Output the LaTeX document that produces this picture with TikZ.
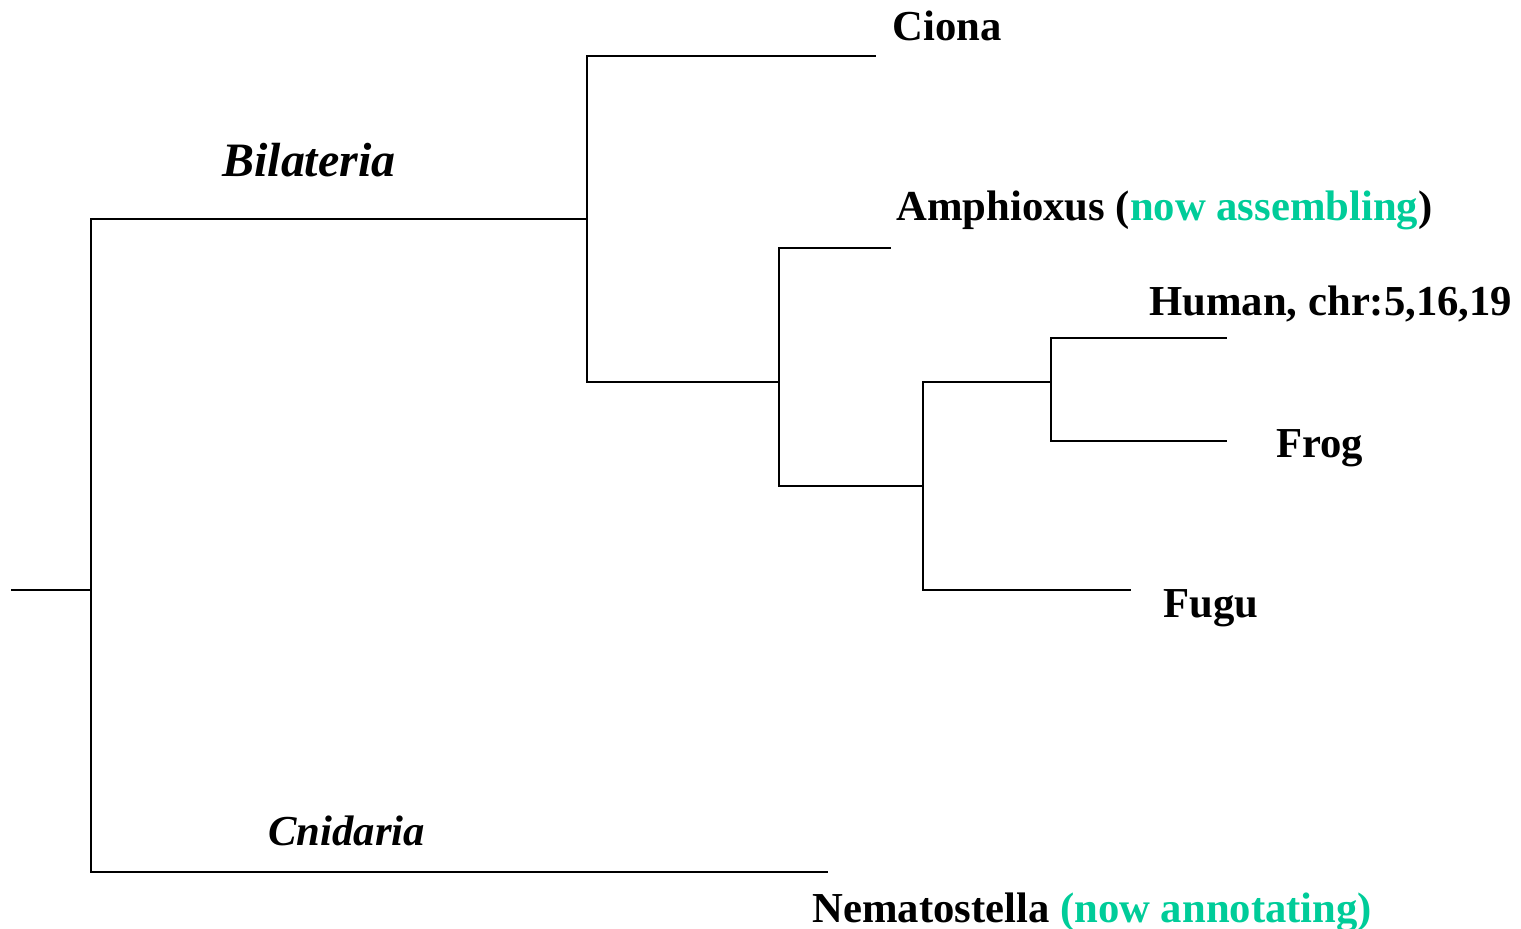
\documentclass[tikz,border=0pt]{standalone}
\usepackage{fontspec}
\setmainfont{Liberation Serif}
\usetikzlibrary{positioning,calc}
\definecolor{notegreen}{HTML}{00CC99}

\begin{document}
\begin{tikzpicture}[
x=0.02cm, y=-0.02cm,
branch/.style={line width=1.1pt},
taxon/.style={anchor=base west, inner sep=0pt, font=\fontsize{24.3}{29}\selectfont\bfseries},
clade/.style={taxon, font=\fontsize{24.3}{29}\selectfont\bfseries\itshape},
note/.style={text=notegreen}
]
\useasboundingbox (0,0) rectangle (1521,929);

% internal nodes
\coordinate (root) at (11,590);
\coordinate (n0) at (91,590);
\coordinate (bil) at (587,219);
\coordinate (chord) at (779,382);
\coordinate (vert) at (923,486);
\coordinate (tetra) at (1051,382);

% leaf ends
\coordinate (cionaEnd) at (876,56);
\coordinate (amphiEnd) at (891,248);
\coordinate (humanEnd) at (1227,338);
\coordinate (frogEnd) at (1227,441);
\coordinate (fuguEnd) at (1131,590);
\coordinate (nemaEnd) at (828,872);

\draw[branch] (root) -- (n0);
\draw[branch] (n0) |- (bil);
\draw[branch] (n0) |- (nemaEnd);
\draw[branch] (bil) |- (cionaEnd);
\draw[branch] (bil) |- (chord);
\draw[branch] (chord) |- (amphiEnd);
\draw[branch] (chord) |- (vert);
\draw[branch] (vert) |- (tetra);
\draw[branch] (vert) |- (fuguEnd);
\draw[branch] (tetra) |- (humanEnd);
\draw[branch] (tetra) |- (frogEnd);

% labels
\node[clade, font=\fontsize{27.3}{32}\selectfont\bfseries\itshape] (bilLabel) at (222,177) {Bilateria};
\node[clade] (cniLabel) at (268,845) {Cnidaria};
\node[taxon] (ciona) at (892,41) {Ciona};
\node[taxon] (amphi) at (896,221) {Amphioxus (\textcolor{notegreen}{now assembling})};
\node[taxon] (human) at (1149,316) {Human, chr:5,16,19};
\node[taxon] (frog) at (1276,457) {Frog};
\node[taxon] (fugu) at (1163,617) {Fugu};
\node[taxon] (nema) at (812,922) {Nematostella \textcolor{notegreen}{(now annotating)}};
\end{tikzpicture}
\end{document}
